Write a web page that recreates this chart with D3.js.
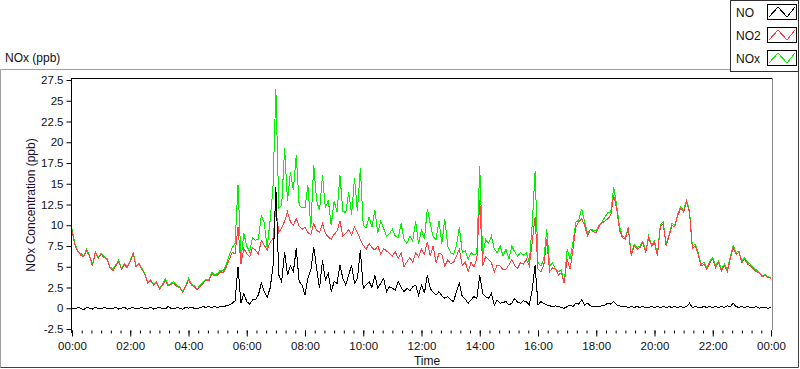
<!DOCTYPE html>
<html>
<head>
<meta charset="utf-8">
<script src="https://cdn.jsdelivr.net/npm/d3@7"></script>
<style>
  body { margin: 0; background: #fff; }
  svg { display: block; font-family: "Liberation Sans", Arial, sans-serif; }
</style>
</head>
<body>
<script>
// one sample every 6 minutes, one row per hour (00:00 .. 24:00)
const stepMinutes = 6;

const no2 = [
  9.3, 7.6, 6.8, 6.4, 6.2, 6.9, 6.3, 5.1, 6.7, 6.0,
  6.5, 6.1, 5.9, 4.9, 4.5, 5.1, 5.6, 4.7, 5.2, 4.9,
  5.6, 6.6, 5.0, 5.3, 4.7, 4.1, 3.0, 3.3, 2.8, 3.1,
  2.3, 2.7, 3.3, 2.7, 2.9, 3.0, 2.6, 2.5, 1.9, 2.6,
  3.4, 2.8, 2.6, 2.2, 2.6, 3.0, 3.4, 3.3, 4.1, 3.9,
  4.0, 4.4, 4.3, 5.0, 5.9, 6.7, 6.6, 9.8, 5.3, 7.2,
  6.6, 6.2, 7.3, 7.0, 6.5, 8.2, 7.6, 7.0, 7.9, 8.4,
  12.0, 9.1, 9.7, 10.5, 11.6, 10.4, 10.0, 10.8, 9.9, 9.5,
  9.8, 9.1, 8.9, 10.2, 9.4, 9.1, 10.2, 9.0, 8.6, 8.3,
  8.9, 9.3, 10.5, 8.7, 9.0, 9.5, 8.8, 9.8, 9.1, 8.3,
  7.6, 7.1, 7.8, 7.3, 7.0, 7.5, 6.5, 7.2, 6.9, 6.6,
  6.3, 6.8, 6.0, 6.7, 5.0, 5.6, 6.1, 5.5, 6.7, 6.2,
  7.1, 6.5, 8.0, 6.3, 7.5, 5.5, 6.6, 6.5, 5.1, 5.8,
  5.4, 5.5, 6.3, 7.1, 5.1, 5.6, 4.4, 5.5, 5.0, 5.9,
  13.0, 5.1, 6.2, 5.9, 5.5, 4.4, 5.2, 5.1, 4.6, 4.7,
  5.2, 5.9, 5.1, 4.8, 5.5, 5.3, 5.9, 5.1, 7.9, 11.0,
  4.7, 4.4, 5.2, 8.3, 4.4, 4.9, 4.7, 4.0, 4.3, 3.0,
  5.9, 4.7, 7.1, 9.8, 10.4, 10.8, 10.0, 8.7, 9.5, 9.2,
  9.1, 9.9, 10.3, 10.5, 10.8, 11.2, 13.6, 12.0, 9.4, 8.5,
  8.3, 9.6, 6.3, 7.5, 7.1, 7.3, 7.9, 6.7, 8.5, 7.5,
  7.9, 6.3, 9.8, 10.2, 7.5, 8.7, 10.0, 9.8, 11.2, 12.0,
  11.6, 12.8, 11.6, 7.2, 7.5, 6.5, 5.1, 5.3, 4.7, 5.5,
  5.9, 4.9, 5.5, 4.5, 5.1, 4.4, 5.9, 7.3, 6.5, 6.7,
  5.5, 5.9, 5.3, 5.1, 4.7, 4.4, 4.2, 3.8, 4.0, 3.7,
  3.6
];

const nox = [
  9.5, 7.8, 6.9, 6.6, 6.3, 7.1, 6.4, 5.2, 6.8, 6.1,
  6.6, 6.2, 6.0, 5.0, 4.7, 5.2, 5.8, 4.8, 5.4, 5.0,
  5.8, 6.7, 5.1, 5.4, 4.8, 4.2, 3.1, 3.4, 2.9, 3.2,
  2.4, 2.8, 3.6, 2.8, 3.0, 3.2, 2.7, 2.6, 2.0, 2.7,
  3.6, 2.9, 2.7, 2.3, 2.8, 3.1, 3.5, 3.5, 4.3, 4.0,
  4.2, 4.6, 4.5, 5.3, 6.4, 7.3, 7.8, 14.9, 5.9, 9.0,
  7.5, 6.8, 8.5, 8.2, 8.3, 11.2, 10.3, 7.3, 10.5, 14.5,
  26.4, 12.1, 12.4, 19.3, 12.9, 16.4, 14.2, 18.5, 12.4, 12.1,
  12.1, 14.8, 9.7, 17.3, 12.9, 11.8, 16.0, 12.1, 13.0, 10.0,
  12.9, 11.6, 16.0, 11.7, 11.5, 14.0, 11.3, 15.7, 11.7, 16.9,
  10.0, 9.7, 11.0, 9.8, 11.8, 9.1, 10.5, 9.6, 8.7, 9.0,
  9.5, 8.7, 8.5, 10.2, 8.3, 7.8, 8.7, 8.1, 10.5, 7.7,
  9.5, 8.3, 12.0, 10.2, 8.6, 8.3, 10.5, 7.8, 10.8, 7.5,
  6.7, 6.5, 7.5, 9.8, 6.7, 6.9, 5.9, 6.7, 6.4, 6.6,
  17.1, 6.3, 8.3, 7.8, 8.7, 7.1, 6.7, 7.5, 6.3, 7.1,
  5.9, 7.5, 6.8, 6.3, 6.7, 6.4, 6.7, 5.5, 10.0, 16.5,
  5.5, 5.1, 5.9, 9.5, 5.1, 5.5, 4.7, 4.4, 4.6, 3.0,
  7.1, 5.9, 7.9, 10.4, 10.6, 12.0, 10.4, 9.0, 9.5, 9.4,
  9.3, 10.0, 10.4, 11.0, 11.5, 11.6, 14.6, 12.4, 9.8, 8.7,
  8.5, 9.8, 6.5, 7.7, 7.3, 7.5, 8.1, 6.9, 8.7, 7.7,
  8.1, 6.5, 10.0, 10.4, 7.7, 8.9, 10.2, 10.0, 11.4, 12.2,
  11.8, 13.0, 11.8, 7.5, 7.7, 6.7, 5.3, 5.5, 4.9, 5.7,
  6.1, 5.1, 5.7, 4.7, 5.3, 4.6, 6.2, 7.6, 6.7, 6.9,
  5.7, 6.1, 5.5, 5.3, 4.9, 4.6, 4.3, 3.9, 4.1, 3.8,
  3.7
];

const no = [
  0.0, -0.1, 0.1, 0.0, -0.2, 0.1, 0.0, -0.1, 0.1, 0.0,
  -0.1, 0.1, 0.0, -0.1, 0.0, 0.1, -0.1, 0.0, 0.1, -0.1,
  0.0, 0.1, -0.1, 0.0, 0.1, -0.1, 0.0, 0.1, -0.1, 0.0,
  0.1, 0.0, -0.1, 0.2, 0.0, -0.1, 0.1, 0.0, -0.1, 0.1,
  0.0, 0.1, 0.0, -0.1, 0.1, 0.2, 0.1, 0.2, 0.1, 0.2,
  0.1, 0.2, 0.2, 0.3, 0.4, 0.6, 0.9, 5.0, 0.6, 1.8,
  0.8, 0.5, 1.0, 1.0, 1.6, 3.0, 2.0, 1.3, 2.4, 4.9,
  14.6, 4.0, 3.2, 6.8, 4.0, 5.1, 4.4, 7.2, 3.2, 2.8,
  1.6, 3.6, 4.6, 7.4, 4.8, 2.4, 5.8, 3.4, 4.2, 2.0,
  3.2, 3.0, 5.2, 3.6, 2.8, 4.0, 5.2, 3.0, 3.6, 7.0,
  2.4, 2.8, 3.2, 2.5, 4.0, 2.4, 3.0, 3.6, 2.0, 2.6,
  2.4, 2.2, 3.2, 2.5, 2.0, 2.4, 2.1, 2.6, 2.8, 1.6,
  2.8, 1.8, 4.0, 2.4, 1.9, 1.6, 2.0, 1.5, 1.2, 1.4,
  1.0, 0.8, 2.0, 3.0, 1.4, 1.1, 0.6, 1.0, 1.4, 1.2,
  4.0, 1.8, 1.4, 1.2, 1.8, 0.4, 1.0, 0.6, 0.7, 0.8,
  0.4, 0.6, 1.2, 0.7, 0.6, 0.9, 0.8, 0.4, 2.2, 5.2,
  0.4, 0.8, 0.6, 0.4, 0.3, 0.2, 0.3, 0.2, 0.1, 0.0,
  0.2, 0.4, 0.2, 0.6, 0.5, 1.0, 0.4, 0.6, 0.3, 0.2,
  0.2, 0.2, 0.3, 0.4, 0.6, 0.5, 0.8, 0.4, 0.3, 0.2,
  0.2, 0.1, 0.2, 0.1, 0.2, 0.1, 0.2, 0.1, 0.1, 0.2,
  0.1, 0.2, 0.1, 0.2, 0.1, 0.2, 0.1, 0.2, 0.1, 0.2,
  0.1, 0.2, 0.6, 0.1, 0.2, 0.1, 0.1, 0.2, 0.1, 0.2,
  0.1, 0.2, 0.1, 0.2, 0.1, 0.3, 0.2, 0.6, 0.2, 0.1,
  0.2, 0.1, 0.2, 0.1, 0.1, 0.2, 0.0, 0.1, 0.1, 0.0,
  0.1
];

const yTicks = [-2.5, 0, 2.5, 5, 7.5, 10, 12.5, 15, 17.5, 20, 22.5, 25, 27.5];
const xTickLabels = ["00:00", "02:00", "04:00", "06:00", "08:00", "10:00", "12:00",
  "14:00", "16:00", "18:00", "20:00", "22:00", "00:00"];

const legendNames = ["NO", "NO2", "NOx"];
const legendColors = ["#000000", "#ff4040", "#00f000"];

const width = 800,
  height = 369;

const svg = d3
  .select("body")
  .append("svg")
  .attr("width", width)
  .attr("height", height);

/////////////////////////////////////////////////////////////////
////////////////          SCALES           //////////////////////
/////////////////////////////////////////////////////////////////
const x = d3.scaleLinear().domain([0, 1440]).range([72, 771]);
const y = d3.scaleLinear().domain([-2.5, 27.5]).range([329, 80]);

/////////////////////////////////////////////////////////////////
////////////////          FRAMES           //////////////////////
/////////////////////////////////////////////////////////////////
// outer panel (light top/left, dark bottom/right)
svg.append("path").attr("d", "M0.5,367.5 V69.5 H730").attr("fill", "none").attr("stroke", "#a0a0a0");
svg.append("path").attr("d", "M0.5,367.5 H798.5 V72").attr("fill", "none").attr("stroke", "#404040");

svg.append("text")
  .attr("x", 5)
  .attr("y", 62)
  .attr("font-size", 12)
  .attr("fill", "#111")
  .text("NOx (ppb)");

// plot box
svg.append("line").attr("x1", 71).attr("x2", 772).attr("y1", 78.5).attr("y2", 78.5).attr("stroke", "#000");
svg.append("line").attr("x1", 772.5).attr("x2", 772.5).attr("y1", 78).attr("y2", 330).attr("stroke", "#8a8a8a");

/////////////////////////////////////////////////////////////////
////////////////           AXES            //////////////////////
/////////////////////////////////////////////////////////////////
const yAxis = svg.append("g")
  .attr("transform", "translate(71.5,0)")
  .call(d3.axisLeft(y).tickValues(yTicks).tickSize(5).tickPadding(3).tickFormat(d => String(d)));
yAxis.select(".domain").attr("d", "M0,78V333");
yAxis.selectAll("text").attr("font-size", 11.5).attr("font-family", "Liberation Sans, Arial").attr("fill", "#111");

const xMinor = svg.append("g")
  .attr("transform", "translate(0,330.5)")
  .call(d3.axisBottom(x).tickValues(d3.range(0, 1441, 20)).tickSize(3).tickFormat(""));
xMinor.select(".domain").remove();

const xAxis = svg.append("g")
  .attr("transform", "translate(0,330.5)")
  .call(d3.axisBottom(x).tickValues(d3.range(0, 1441, 120)).tickSize(6).tickPadding(5)
    .tickFormat((d, i) => xTickLabels[i]));
xAxis.select(".domain").remove();
xAxis.selectAll("text").attr("font-size", 11.5).attr("font-family", "Liberation Sans, Arial").attr("fill", "#111");

svg.append("text")
  .attr("x", 427)
  .attr("y", 365)
  .attr("text-anchor", "middle")
  .attr("font-size", 12)
  .attr("fill", "#111")
  .text("Time");

svg.append("text")
  .attr("transform", "translate(35,205) rotate(-90)")
  .attr("text-anchor", "middle")
  .attr("font-size", 12)
  .attr("fill", "#1a1030")
  .text("NOx Concentration (ppb)");

/////////////////////////////////////////////////////////////////
////////////////           LINES           //////////////////////
/////////////////////////////////////////////////////////////////
const line = d3.line()
  .x((d, i) => x(i * stepMinutes))
  .y(d => y(d));

const plot = svg.append("g");
[[nox, legendColors[2]], [no2, legendColors[1]], [no, legendColors[0]]].forEach(s => {
  plot.append("path")
    .datum(s[0])
    .attr("d", line)
    .attr("fill", "none")
    .attr("stroke", s[1])
    .attr("stroke-width", 1)
    .attr("shape-rendering", "crispEdges");
});

/////////////////////////////////////////////////////////////////
////////////////          LEGEND           //////////////////////
/////////////////////////////////////////////////////////////////
const legend = svg.append("g");
legend.append("rect")
  .attr("x", 730.5).attr("y", 0.5).attr("width", 68).attr("height", 71)
  .attr("fill", "#fff").attr("stroke", "#303030");

const item = legend.selectAll(".item")
  .data(legendNames)
  .enter()
  .append("g")
  .attr("class", "item")
  .attr("transform", (d, i) => "translate(0," + i * 23 + ")");

item.append("text")
  .attr("x", 736)
  .attr("y", 17)
  .attr("font-size", 12)
  .attr("fill", "#111")
  .text(d => d);

item.append("rect")
  .attr("x", 767.5).attr("y", 4.5).attr("width", 29).attr("height", 15)
  .attr("fill", "#fff").attr("stroke", "#000");

item.append("polyline")
  .attr("points", "769,17 778,7 787,17 795,7")
  .attr("fill", "none")
  .attr("stroke", (d, i) => legendColors[i])
  .attr("shape-rendering", "crispEdges");
</script>
</body>
</html>
